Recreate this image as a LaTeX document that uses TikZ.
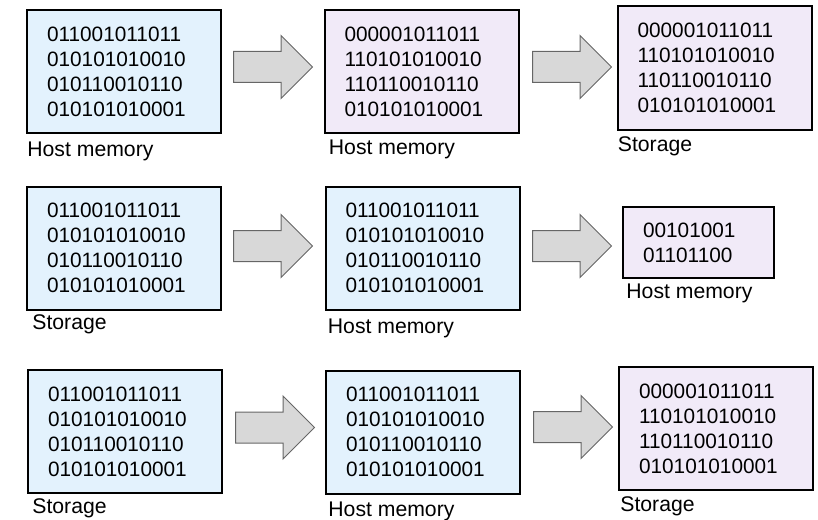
\documentclass[tikz,border=0pt]{standalone}
\usepackage{fontspec}
\setmainfont{Liberation Sans}
\usetikzlibrary{shapes.arrows}

\definecolor{memblue}{RGB}{227,242,253}
\definecolor{storlilac}{RGB}{241,234,248}
\definecolor{arrowgray}{RGB}{216,216,216}

\begin{document}
\begin{tikzpicture}[x=0.5pt, y=-0.5pt,
  bits/.style={draw, line width=1pt, inner xsep=10pt, inner ysep=0pt, align=left, text width=77pt, minimum height=61.5pt, font=\fontsize{10.4}{12.5}\selectfont},
  lbl/.style={anchor=base west, inner sep=0pt, font=\fontsize{10.6}{12.5}\selectfont},
  fatarrow/.style={single arrow, anchor=tail, draw=black!60, fill=arrowgray, line width=0.5pt, inner xsep=0pt, inner ysep=7.5pt, minimum height=39.5pt, minimum width=31pt, single arrow head extend=8pt}]
\useasboundingbox (0,0) rectangle (818,519);

% first row
\node[bits, fill=memblue] (src1) at (124,71.5) {011001011011\\010101010010\\010110010110\\010101010001};
\node[bits, fill=storlilac] (mid1) at (421.5,71.5) {000001011011\\110101010010\\110110010110\\010101010001};
\node[bits, fill=storlilac] (dst1) at (714.5,68) {000001011011\\110101010010\\110110010110\\010101010001};
\node[fatarrow] (r1a) at (233,67) {};
\node[fatarrow] (r1b) at (532,67) {};
\node[lbl] (src1l) at ([shift={(1,22)}]src1.south west) {Host memory};
\node[lbl] (mid1l) at ([shift={(5,21)}]mid1.south west) {Host memory};
\node[lbl] (dst1l) at ([shift={(1,21)}]dst1.south west) {Storage};

% second row
\node[bits, fill=memblue] (src2) at (124,248) {011001011011\\010101010010\\010110010110\\010101010001};
\node[bits, fill=memblue] (mid2) at (422.5,248) {011001011011\\010101010010\\010110010110\\010101010001};
\node[bits, fill=storlilac, text width=55.5pt, minimum height=35.5pt] (dst2) at (698.5,242.5) {00101001\\01101100};
\node[fatarrow] (r2a) at (233,246) {};
\node[fatarrow] (r2b) at (532,246) {};
\node[lbl] (src2l) at ([shift={(6,19)}]src2.south west) {Storage};
\node[lbl] (mid2l) at ([shift={(3,23)}]mid2.south west) {Host memory};
\node[lbl] (dst2l) at ([shift={(4,19)}]dst2.south west) {Host memory};

% third row
\node[bits, fill=memblue] (src3) at (125,431.5) {011001011011\\010101010010\\010110010110\\010101010001};
\node[bits, fill=memblue] (mid3) at (423,432) {011001011011\\010101010010\\010110010110\\010101010001};
\node[bits, fill=storlilac] (dst3) at (716,428.5) {000001011011\\110101010010\\110110010110\\010101010001};
\node[fatarrow] (r3a) at (235,427.5) {};
\node[fatarrow] (r3b) at (533,427) {};
\node[lbl] (src3l) at ([shift={(5,19)}]src3.south west) {Storage};
\node[lbl] (mid3l) at ([shift={(3,22)}]mid3.south west) {Host memory};
\node[lbl] (dst3l) at ([shift={(2,20)}]dst3.south west) {Storage};

\end{tikzpicture}
\end{document}
